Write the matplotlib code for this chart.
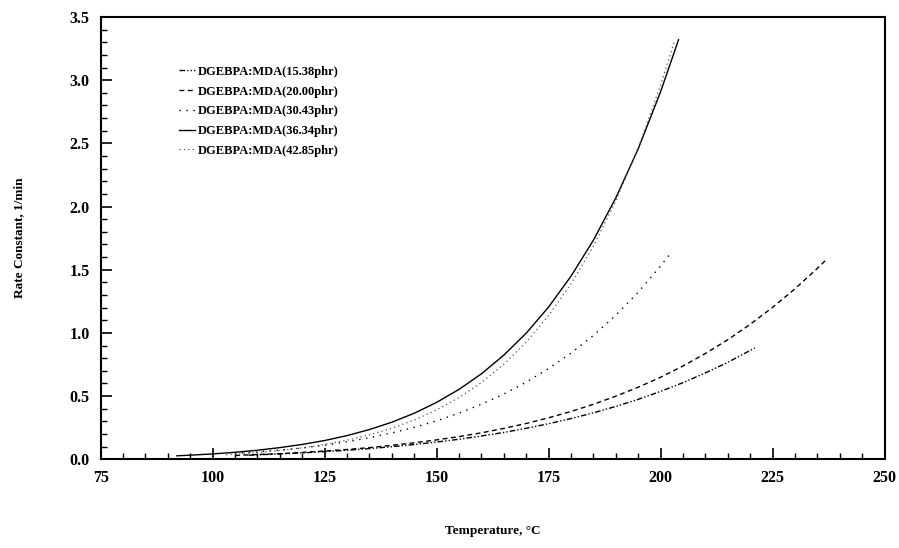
import matplotlib
matplotlib.use("Agg")
import matplotlib.pyplot as plt
from matplotlib.ticker import MultipleLocator, FormatStrFormatter

plt.rcParams['font.family'] = ['Liberation Serif', 'DejaVu Serif']
plt.rcParams['font.weight'] = 'bold'

# values (temperature in C, rate constant in 1/min)
t_1538 = [108, 110, 115, 120, 125, 130, 135, 140, 145, 150, 155, 160, 165, 170,
          175, 180, 185, 190, 195, 200, 205, 210, 215, 221]
k_1538 = [0.032, 0.035, 0.042, 0.050, 0.060, 0.071, 0.084, 0.099, 0.116, 0.136,
          0.158, 0.184, 0.212, 0.245, 0.281, 0.322, 0.367, 0.418, 0.474, 0.537,
          0.606, 0.683, 0.767, 0.88]

t_2000 = [105, 110, 115, 120, 125, 130, 135, 140, 145, 150, 155, 160, 165, 170,
          175, 180, 185, 190, 195, 200, 205, 210, 215, 220, 225, 230, 235, 237]
k_2000 = [0.030, 0.037, 0.044, 0.054, 0.065, 0.077, 0.092, 0.110, 0.130, 0.153,
          0.179, 0.209, 0.244, 0.283, 0.328, 0.378, 0.435, 0.499, 0.570, 0.649,
          0.738, 0.837, 0.946, 1.068, 1.202, 1.349, 1.511, 1.58]

t_3043 = [105, 110, 115, 120, 125, 130, 135, 140, 145, 150, 155, 160, 165, 170,
          175, 180, 185, 190, 195, 200, 202]
k_3043 = [0.046, 0.058, 0.072, 0.089, 0.111, 0.138, 0.170, 0.208, 0.252, 0.304,
          0.365, 0.435, 0.516, 0.610, 0.718, 0.840, 0.980, 1.140, 1.322, 1.530, 1.62]

t_3634 = [92, 95, 100, 105, 110, 115, 120, 125, 130, 135, 140, 145, 150, 155,
          160, 165, 170, 175, 180, 185, 190, 195, 200, 204]
k_3634 = [0.027, 0.032, 0.042, 0.055, 0.071, 0.092, 0.117, 0.148, 0.187, 0.235,
          0.293, 0.364, 0.450, 0.553, 0.676, 0.824, 0.998, 1.205, 1.449, 1.734,
          2.069, 2.457, 2.909, 3.32]

t_4285 = [103, 105, 110, 115, 120, 125, 130, 135, 140, 145, 150, 155, 160, 165,
          170, 175, 180, 185, 190, 195, 200, 203]
k_4285 = [0.035, 0.040, 0.053, 0.069, 0.090, 0.117, 0.151, 0.193, 0.245, 0.310,
          0.390, 0.488, 0.607, 0.752, 0.927, 1.137, 1.388, 1.688, 2.045, 2.465,
          2.961, 3.30]

labels = ['DGEBPA:MDA(15.38phr)', 'DGEBPA:MDA(20.00phr)', 'DGEBPA:MDA(30.43phr)',
          'DGEBPA:MDA(36.34phr)', 'DGEBPA:MDA(42.85phr)']

fig = plt.figure(figsize=(8.99, 5.48), dpi=100)
ax = fig.add_axes([0.112, 0.162, 0.872, 0.807])

ax.plot(t_1538, k_1538, color='black', lw=1.0, ls=(0, (4, 1.5, 1, 1.5, 1, 1.5)), label=labels[0])
ax.plot(t_2000, k_2000, color='black', lw=1.0, ls=(0, (3.5, 2.5)), label=labels[1])
ax.plot(t_3043, k_3043, color='black', lw=1.0, ls=(0, (1, 4)), label=labels[2])
ax.plot(t_3634, k_3634, color='black', lw=1.0, ls='-', label=labels[3])
ax.plot(t_4285, k_4285, color='#555555', lw=0.9, ls=(0, (1, 2.5)), label=labels[4])

ax.set_xlim(75, 250)
ax.set_ylim(0, 3.5)
ax.xaxis.set_major_locator(MultipleLocator(25))
ax.xaxis.set_minor_locator(MultipleLocator(5))
ax.yaxis.set_major_locator(MultipleLocator(0.5))
ax.yaxis.set_minor_locator(MultipleLocator(0.1))
ax.yaxis.set_major_formatter(FormatStrFormatter('%.1f'))

ax.tick_params(which='both', direction='in', top=False, right=False, labelsize=11.5)
ax.tick_params(which='major', length=8, width=1.2, pad=8)
ax.tick_params(which='minor', length=4, width=1.0)
for s in ax.spines.values():
    s.set_linewidth(1.5)

ax.set_xlabel('Temperature, °C', fontsize=9.5, fontweight='bold', labelpad=28)
ax.set_ylabel('Rate Constant, 1/min', fontsize=9.5, fontweight='bold', labelpad=32)

ax.legend(loc='upper left', bbox_to_anchor=(0.085, 0.915), frameon=False,
          handlelength=1.3, handletextpad=0.2, labelspacing=0.62,
          prop={'family': 'Liberation Serif', 'weight': 'bold', 'size': 9})

fig.savefig('out.png', dpi=100)
